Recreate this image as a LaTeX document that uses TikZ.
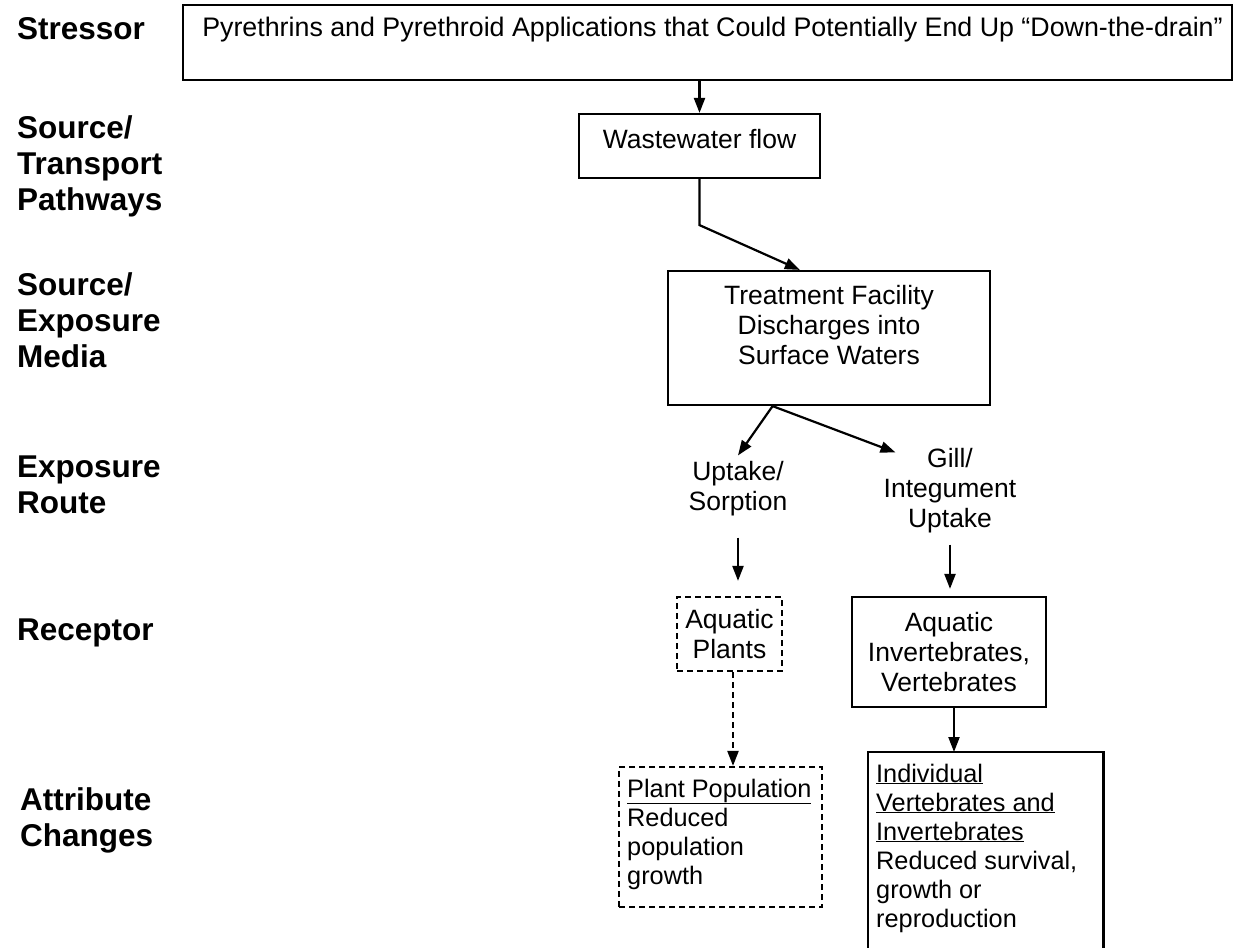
\documentclass[tikz,border=0pt]{standalone}
\usepackage{fontspec}
\setmainfont{Liberation Sans}
\usetikzlibrary{arrows.meta,calc}
\tikzset{
 txt/.style={font=\fontsize{26.5bp}{30bp}\selectfont, inner sep=0pt, align=center},
 small/.style={font=\fontsize{25.3bp}{29bp}\selectfont},
 lbl/.style={font=\fontsize{31.5bp}{36bp}\selectfont\bfseries, inner sep=0pt, align=left, anchor=west},
 box/.style={draw, line width=2.2bp, inner sep=0pt},
 dbox/.style={box, dash pattern=on 6bp off 4bp},
 arr/.style={line width=2.2bp, -{Triangle[length=15bp,width=11bp]}},
}
\begin{document}
\begin{tikzpicture}[x=1bp,y=-1bp]
\useasboundingbox (0,0) rectangle (1233,948);
% row labels
\node[lbl] (L1) at (17,29) {Stressor};
\node[lbl] (L2) at (17,166) {Source/\\Transport\\Pathways};
\node[lbl] (L3) at (17,320) {Source/\\Exposure\\Media};
\node[lbl] (L4) at (17,485) {Exposure\\Route};
\node[lbl] (L5) at (17,633) {Receptor};
\node[lbl] (L6) at (20,820) {Attribute\\Changes};
% stressor
\node[box, minimum width=1049bp, minimum height=75bp] (s) at (707.5,42.5) {};
\node[txt, font=\fontsize{26.8bp}{30bp}\selectfont] (st) at (712.5,30) {Pyrethrins and Pyrethroid Applications that Could Potentially End Up “Down-the-drain”};
% wastewater
\node[box, minimum width=241bp, minimum height=64bp] (ww) at (699.5,146) {};
\node[txt] (wwt) at (699.5,139) {Wastewater flow};
\draw[arr] (ww.north |- s.south) -- (ww.north);
% treatment
\node[box, minimum width=322bp, minimum height=134bp] (tf) at (829,338) {};
\node[txt] (tft) at (829,325) {Treatment Facility\\Discharges into\\Surface Waters};
\coordinate (bend) at ($(ww.south)+(0,46)$);
\draw[arr] (ww.south) -- (bend) -- ($(tf.north west)!0.41!(tf.north east)$);
% exposure routes
\coordinate (tfo) at ($(tf.south west)!0.326!(tf.south east)$);
\node[txt, inner sep=6bp] (up) at (738,489) {Uptake/\\Sorption};
\node[txt, inner sep=6bp] (gi) at (950,491) {Gill/\\Integument\\Uptake};
\draw[arr] (tfo) -- (up.north);
\draw[arr] (tfo) -- ($(gi.north west)+(18,10)$);
% receptors
\node[dbox, txt, minimum width=105bp, minimum height=74bp] (ap) at (729.5,634) {Aquatic\\Plants};
\node[box, txt, minimum width=194bp, minimum height=110bp] (inv) at (949,652) {Aquatic\\Invertebrates,\\Vertebrates};
\draw[arr] ($(up.south)+(0,15)$) -- ($(up.south |- ap.north)+(0,-15)$);
\draw[arr] ($(gi.south)+(0,5)$) -- ($(gi.south |- inv.north)+(0,-7)$);
% attribute changes
\node[dbox, minimum width=203bp, minimum height=140bp] (pp) at (720.5,837) {};
\node[txt, small, align=left, anchor=west] (ppt) at (627,834) {\underline{Plant Population}\\Reduced\\population\\growth};
\coordinate (apo) at ($(ap.south)+(3.5,0)$);
\draw[arr, dash pattern=on 6bp off 4bp] (apo) -- (apo |- pp.north);
\node[inner sep=0pt, minimum width=235bp, minimum height=200bp, anchor=north west] (ind) at (868,752) {};
\draw[line width=2.2bp] (ind.south west) -- (ind.north west) -- (ind.north east) -- (ind.south east);
\node[txt, small, align=left, anchor=west] (indt) at (876,848) {\underline{Individual}\\\underline{Vertebrates and}\\\underline{Invertebrates}\\Reduced survival,\\growth or\\reproduction};
\coordinate (invo) at ($(inv.south)+(5,0)$);
\draw[arr] (invo) -- (invo |- ind.north);
\end{tikzpicture}
\end{document}
